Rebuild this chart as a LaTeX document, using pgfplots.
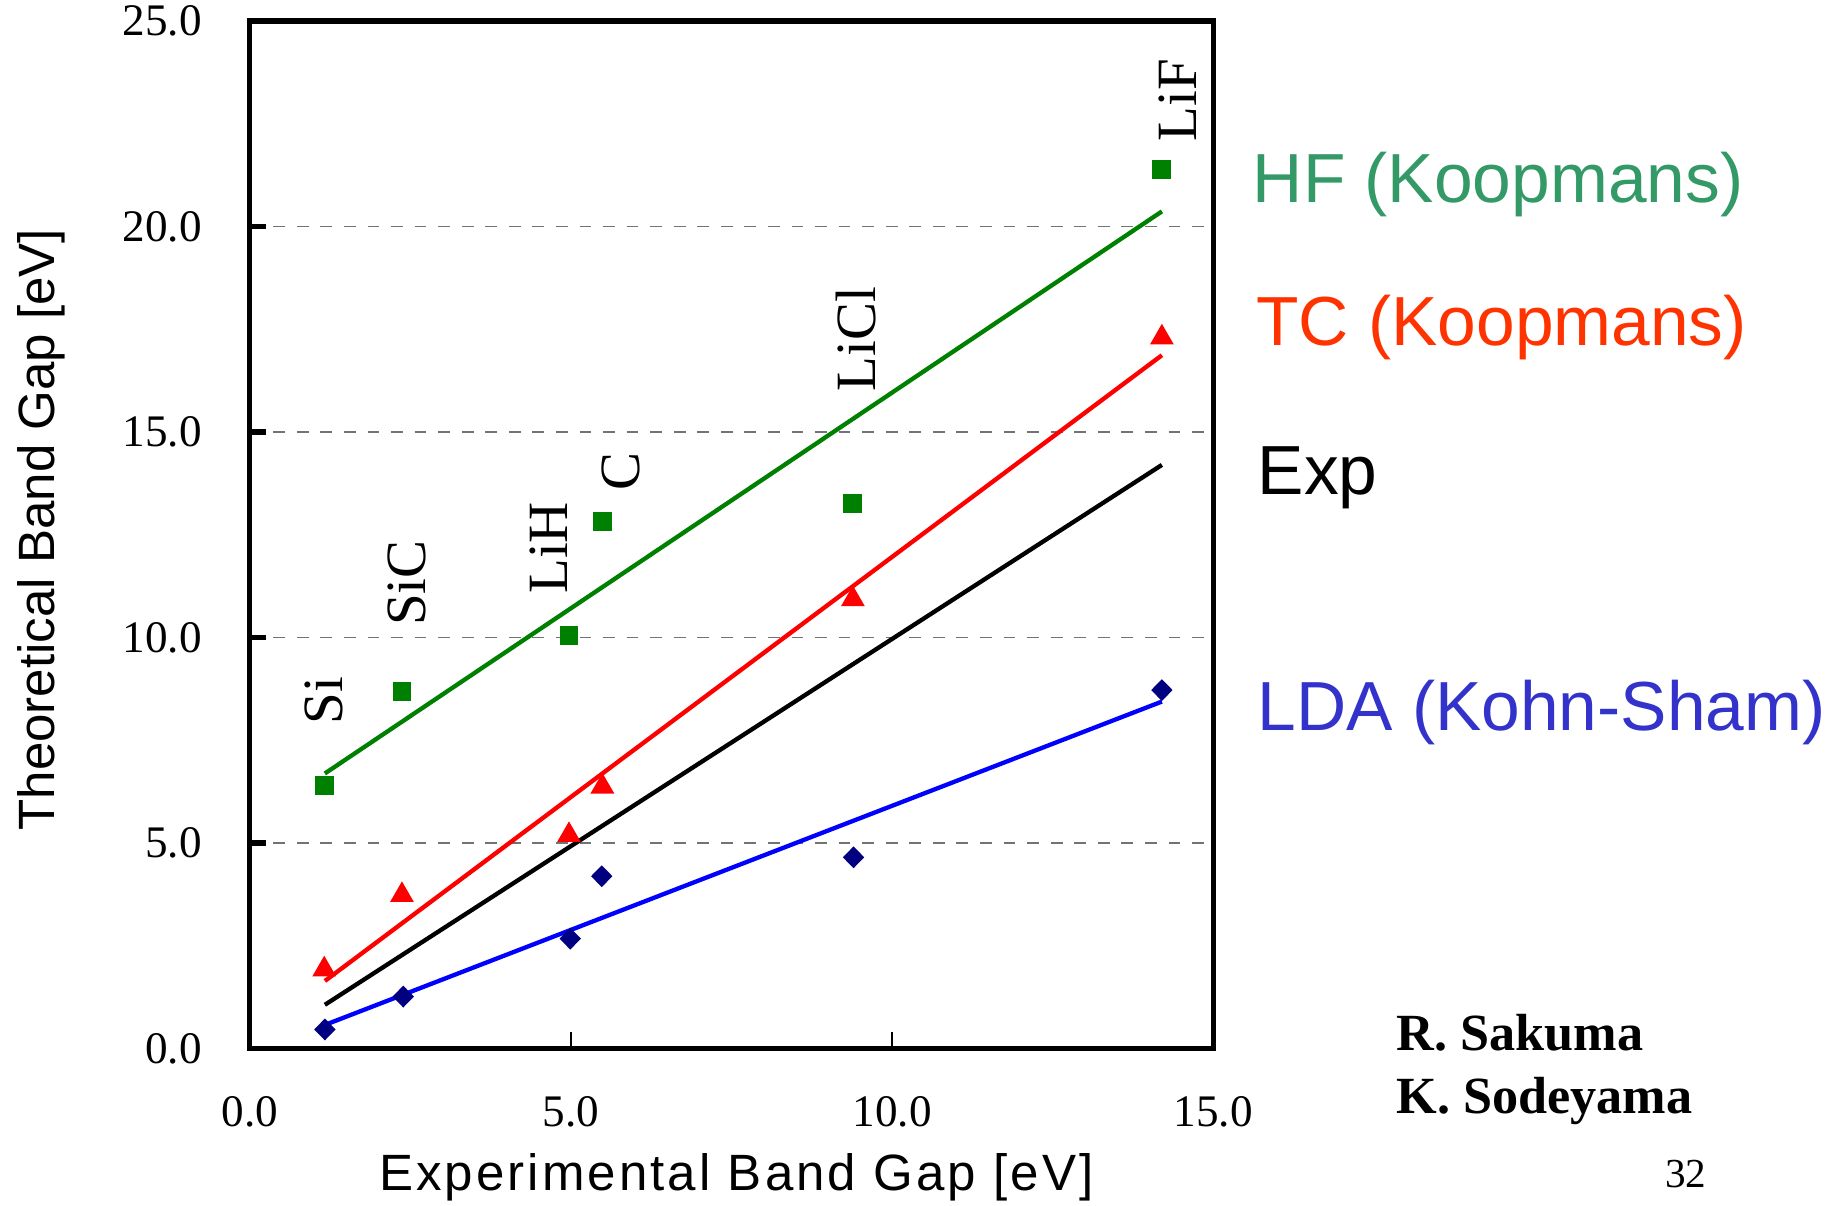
\documentclass[border=0pt]{standalone}
\usepackage{pgfplots}
\pgfplotsset{compat=1.18}
\usepackage{fontspec}
\setmainfont{Liberation Serif}
\newfontfamily\arialfont{Liberation Sans}
\newfontfamily\arialspaced[LetterSpace=6]{Liberation Sans}
\definecolor{hfgreen}{RGB}{0,128,0}
\definecolor{hftext}{RGB}{51,153,102}
\definecolor{tctext}{RGB}{255,51,0}
\definecolor{ldatext}{RGB}{51,51,204}
\definecolor{navy}{RGB}{0,0,128}
\begin{document}
\begin{tikzpicture}
\path[use as bounding box] (-63.6pt,-39.9pt) rectangle (406.8pt,267pt);
\begin{axis}[
  at={(0pt,0pt)}, anchor=south west,
  width=245.4pt, height=261.6pt, scale only axis,
  xmin=0, xmax=15, ymin=0, ymax=25,
  xtick={0,5,10,15}, ytick={0,5,10,15,20,25},
  xticklabels={0.0,5.0,10.0,15.0},
  yticklabels={0.0,5.0,10.0,15.0,20.0,25.0},
  tick pos=left, tick align=inside,
  axis line style={line width=1.4pt},
  xtick style={line width=0.4pt, black},
  ytick style={line width=1.4pt, black},
  major tick length=4.2pt,
  ymajorgrids, grid style={dashed, gray!90!black, line width=0.4pt},
  xticklabel style={font=\fontsize{11.5}{13}\selectfont, inner sep=0pt, anchor=north, yshift=-12pt},
  yticklabel style={font=\fontsize{11.5}{13}\selectfont, inner sep=0pt, anchor=east, xshift=-12pt},
  xlabel={Experimental Band Gap [eV]},
  ylabel={Theoretical Band Gap [eV]},
  xlabel style={font=\arialspaced\fontsize{13}{15}\selectfont, at={(axis description cs:0.505,-0.126)}, anchor=center},
  ylabel style={font=\arialfont\fontsize{13}{15}\selectfont, at={(axis description cs:-0.216,0.505)}, anchor=center},
  clip=false,
]
% fitted lines
\addplot[hfgreen, line width=1.1pt] coordinates {(1.17,6.69) (14.2,20.37)};
\addplot[red, line width=1.1pt] coordinates {(1.17,1.64) (14.2,16.87)};
\addplot[black, line width=1.1pt] coordinates {(1.17,1.06) (14.2,14.2)};
\addplot[blue, line width=1.1pt] coordinates {(1.17,0.57) (14.2,8.44)};
% HF
\addplot[only marks, mark=square*, mark size=2.2pt, color=hfgreen] coordinates {
 (1.16,6.40) (2.37,8.69) (4.97,10.04) (5.49,12.83) (9.39,13.26) (14.2,21.4)};
% TC
\addplot[only marks, mark=triangle*, mark size=3.1pt, color=red] coordinates {
 (1.16,1.92) (2.37,3.73) (4.97,5.19) (5.49,6.37) (9.39,10.93) (14.2,17.3)};
% LDA
\addplot[only marks, mark=diamond*, mark size=2.5pt, mark options={xscale=1.3}, color=navy] coordinates {
 (1.17,0.46) (2.39,1.26) (4.99,2.67) (5.48,4.19) (9.40,4.65) (14.2,8.72)};
% compound labels
\begin{scope}[every node/.style={rotate=90, anchor=center, font=\fontsize{14.5}{16}\selectfont, inner sep=0pt}]
\node at (axis cs:1.155,8.46) {Si};
\node at (axis cs:2.44,11.32) {SiC};
\node at (axis cs:4.66,12.18) {LiH};
\node at (axis cs:5.78,14.05) {C};
\node at (axis cs:9.44,17.26) {LiCl};
\node at (axis cs:14.45,23.08) {LiF};
\end{scope}
\end{axis}
\begin{scope}[every node/.style={anchor=base west, inner sep=0pt, font=\arialfont\fontsize{17.7}{20}\selectfont}]
\node[text=hftext] at (255.3pt,215.4pt) {HF (Koopmans)};
\node[text=tctext] at (256.2pt,179.1pt) {TC (Koopmans)};
\node[text=black] at (256.5pt,141pt) {Exp};
\node[text=ldatext] at (256.5pt,81pt) {LDA (Kohn-Sham)};
\end{scope}
\begin{scope}[every node/.style={anchor=base west, inner sep=0pt, font=\bfseries\fontsize{13.3}{15}\selectfont}]
\node at (291.9pt,-0.6pt) {R. Sakuma};
\node at (291.9pt,-16.5pt) {K. Sodeyama};
\end{scope}
\node[anchor=base, inner sep=0pt, font=\fontsize{10.5}{12}\selectfont] at (365.7pt,-35.4pt) {32};
\end{tikzpicture}
\end{document}
